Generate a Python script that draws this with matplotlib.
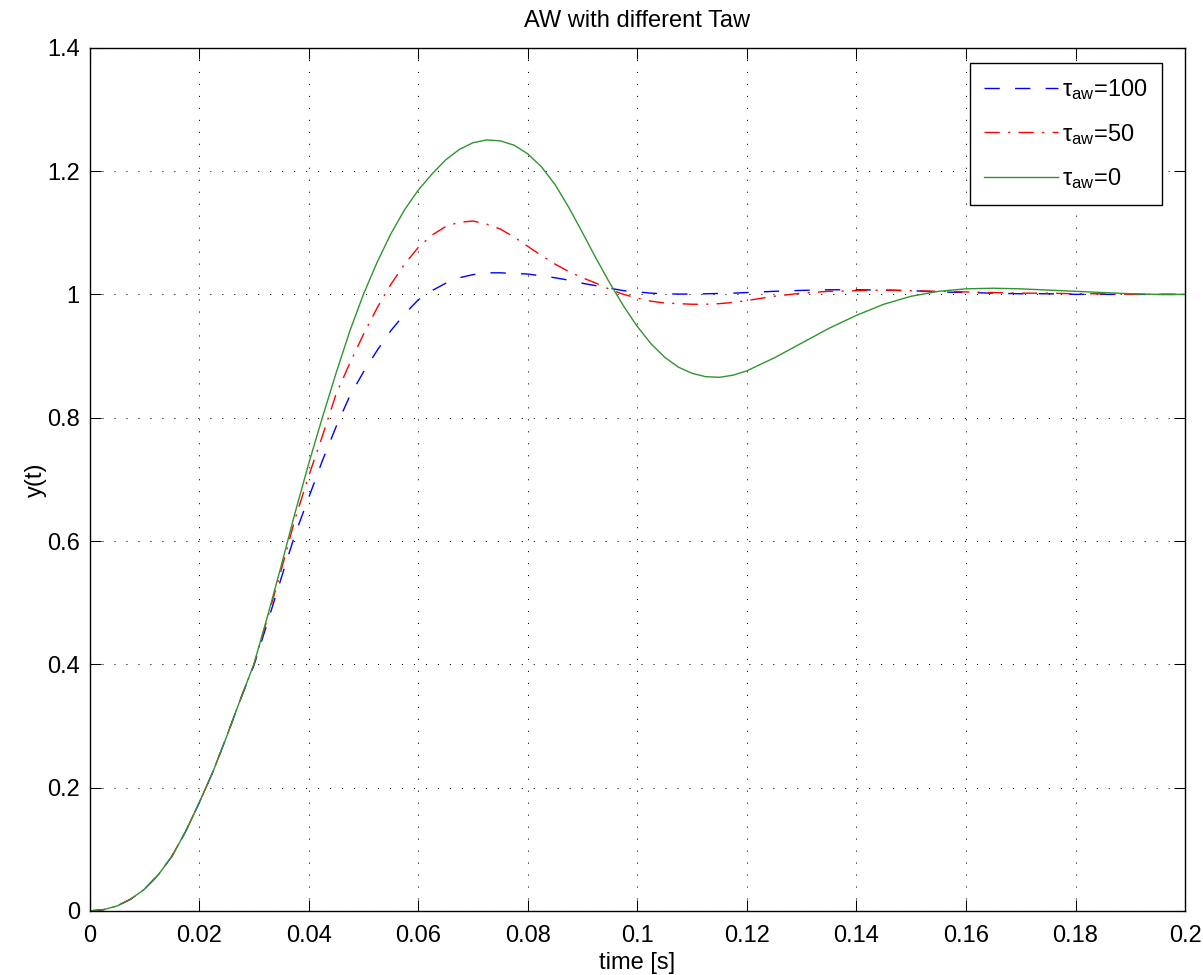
import matplotlib
matplotlib.use("Agg")
import matplotlib.pyplot as plt

plt.rcParams['font.family'] = ['Liberation Sans', 'DejaVu Sans']
plt.rcParams['mathtext.fontset'] = 'custom'
plt.rcParams['mathtext.rm'] = 'Liberation Sans'
plt.rcParams['mathtext.it'] = 'Liberation Sans:italic'

# time samples [s]
t = [0, 0.0025, 0.005, 0.0075, 0.01, 0.0125, 0.015, 0.0175, 0.02, 0.0225,
     0.025, 0.0275, 0.03, 0.0325, 0.035, 0.0375, 0.04, 0.0425, 0.045, 0.0475,
     0.05, 0.0525, 0.055, 0.0575, 0.06, 0.0625, 0.065, 0.0675, 0.07, 0.0725,
     0.075, 0.0775, 0.08, 0.0825, 0.085, 0.0875, 0.09, 0.0925, 0.095, 0.0975,
     0.1, 0.1025, 0.105, 0.1075, 0.11, 0.1125, 0.115, 0.1175, 0.12, 0.125,
     0.13, 0.135, 0.14, 0.145, 0.15, 0.155, 0.16, 0.165, 0.17, 0.175,
     0.18, 0.185, 0.19, 0.195, 0.2]

y_aw100 = [0, 0.002, 0.008, 0.019, 0.035, 0.058, 0.088, 0.128, 0.175, 0.225,
           0.282, 0.342, 0.398, 0.468, 0.54, 0.61, 0.67, 0.73, 0.785, 0.835,
           0.874, 0.909, 0.941, 0.968, 0.991, 1.006, 1.018, 1.027, 1.032, 1.035,
           1.035, 1.034, 1.033, 1.030, 1.027, 1.023, 1.018, 1.014, 1.010, 1.006,
           1.004, 1.002, 1.001, 1.0005, 1.0005, 1.001, 1.0015, 1.002, 1.003, 1.005,
           1.0065, 1.0075, 1.0075, 1.007, 1.006, 1.004, 1.003, 1.002, 1.001, 1.001,
           1.0, 1.0, 1.0, 1.0, 1.0]

y_aw50 = [0, 0.002, 0.008, 0.019, 0.035, 0.058, 0.088, 0.128, 0.175, 0.225,
          0.282, 0.342, 0.399, 0.475, 0.553, 0.635, 0.705, 0.77, 0.838, 0.888,
          0.935, 0.978, 1.016, 1.049, 1.076, 1.096, 1.110, 1.117, 1.119, 1.114,
          1.106, 1.093, 1.078, 1.063, 1.049, 1.037, 1.027, 1.018, 1.008, 1.0,
          0.994, 0.989, 0.986, 0.985, 0.984, 0.984, 0.985, 0.987, 0.990, 0.997,
          1.002, 1.005, 1.006, 1.007, 1.006, 1.005, 1.004, 1.003, 1.002, 1.002,
          1.001, 1.001, 1.0, 1.0, 1.0]

y_aw0 = [0, 0.002, 0.008, 0.019, 0.035, 0.058, 0.088, 0.128, 0.175, 0.225,
         0.282, 0.342, 0.40, 0.478, 0.56, 0.645, 0.725, 0.80, 0.872, 0.94,
         1.0, 1.052, 1.098, 1.137, 1.169, 1.195, 1.218, 1.235, 1.246, 1.2505,
         1.249, 1.242, 1.228, 1.207, 1.178, 1.141, 1.10, 1.058, 1.018, 0.981,
         0.948, 0.92, 0.898, 0.882, 0.872, 0.8665, 0.8655, 0.869, 0.876, 0.897,
         0.921, 0.945, 0.966, 0.984, 0.997, 1.005, 1.009, 1.010, 1.009, 1.007,
         1.005, 1.003, 1.001, 1.0, 1.0]

labels = ['\u03c4$_{\\mathrm{aw}}$=100', '\u03c4$_{\\mathrm{aw}}$=50', '\u03c4$_{\\mathrm{aw}}$=0']
xticks = [0, 0.02, 0.04, 0.06, 0.08, 0.1, 0.12, 0.14, 0.16, 0.18, 0.2]
xticklabels = ['0', '0.02', '0.04', '0.06', '0.08', '0.1', '0.12', '0.14', '0.16', '0.18', '0.2']
yticks = [0, 0.2, 0.4, 0.6, 0.8, 1.0, 1.2, 1.4]
yticklabels = ['0', '0.2', '0.4', '0.6', '0.8', '1', '1.2', '1.4']

FS = 17
fig = plt.figure(figsize=(12.03, 9.75), dpi=100)
ax = fig.add_axes([0.0744, 0.0657, 0.9107, 0.8853])

ax.plot(t, y_aw100, color='#0000ff', lw=1.0, dashes=(11, 11), label=labels[0])
ax.plot(t, y_aw50, color='#ff0000', lw=1.0, dashes=(11, 6, 1.5, 6), label=labels[1])
ax.plot(t, y_aw0, color='#2f952f', lw=1.0, label=labels[2])

ax.set_xlim(0, 0.2)
ax.set_ylim(0, 1.4)
ax.set_xticks(xticks)
ax.set_xticklabels(xticklabels)
ax.set_yticks(yticks)
ax.set_yticklabels(yticklabels)
ax.tick_params(direction='in', length=8, width=0.75, top=True, right=True,
               labelsize=FS, colors='black')
ax.tick_params(axis='x', pad=10)
ax.tick_params(axis='y', pad=7)
for s in ax.spines.values():
    s.set_linewidth(1.0)
    s.set_color('black')
ax.grid(True, color='black', lw=0.75, linestyle=(0, (1, 10.5)))

ax.set_title('AW with different Taw', fontsize=FS, pad=15)
ax.set_xlabel('time [s]', fontsize=FS, labelpad=4)
ax.set_ylabel('y(t)', fontsize=FS, labelpad=0)

leg = ax.legend(loc='upper right', bbox_to_anchor=(0.979, 0.982), borderaxespad=0,
                fontsize=FS, frameon=True, fancybox=False,
                edgecolor='black', framealpha=1, handlelength=3.1,
                handletextpad=0.2, borderpad=0.6, labelspacing=0.82)
leg.get_frame().set_linewidth(1.0)

fig.savefig('out.png', dpi=100)
